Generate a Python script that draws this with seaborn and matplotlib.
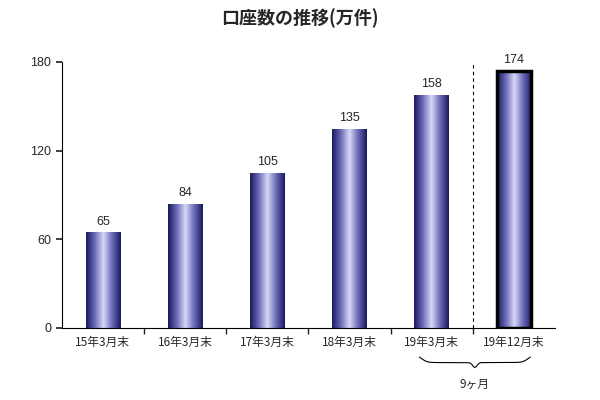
import matplotlib
matplotlib.use("Agg")
import matplotlib.pyplot as plt
import numpy as np
import seaborn as sns
from matplotlib.colors import LinearSegmentedColormap

categories = ["15年3月末", "16年3月末", "17年3月末", "18年3月末", "19年3月末", "19年12月末"]
values = [65, 84, 105, 135, 158, 174]
yticks = [0, 60, 120, 180]

sns.set_theme(style="white")
plt.rcParams["font.family"] = ["Noto Sans CJK JP", "DejaVu Sans"]

fig = plt.figure(figsize=(6, 4), dpi=100)
ax = fig.add_axes([0.103, 0.18, 0.822, 0.665])

bars = sns.barplot(x=categories, y=values, ax=ax, width=0.42, color="#333377",
                   saturation=1)
cmap = LinearSegmentedColormap.from_list(
    "g", ["#1a1a5e", "#6b6bb8", "#d8d8f8", "#6b6bb8", "#1a1a5e"])
grad = np.linspace(0, 1, 100).reshape(1, -1)
for i, p in enumerate(ax.patches):
    x0, y0 = p.get_x(), p.get_y()
    w, h = p.get_width(), p.get_height()
    im = ax.imshow(grad, cmap=cmap, aspect="auto", extent=(x0, x0 + w, y0, y0 + h),
                   zorder=2)
    im.set_clip_path(p)
    p.set_facecolor("none")
    if i == len(ax.patches) - 1:
        p.set_edgecolor("black")
        p.set_linewidth(2.5)
        p.set_zorder(3)
    else:
        p.set_edgecolor("none")
    ax.text(x0 + w / 2, y0 + h + 3, str(values[i]), ha="center", va="bottom",
            fontsize=9, family=["Liberation Sans", "DejaVu Sans"])

ax.set_xlim(-0.5, 5.5)
ax.set_ylim(0, 180)
ax.set_yticks(yticks)
ax.set_yticklabels([str(v) for v in yticks], family=["Liberation Sans", "DejaVu Sans"],
                   fontsize=9)
ax.set_xticks(range(len(categories)))
ax.set_xticklabels(categories, fontsize=8.5)
ax.set_xticks(np.arange(0.5, 5.5, 1), minor=True)
ax.tick_params(axis="x", which="major", length=0, pad=6)
ax.tick_params(axis="x", which="minor", length=4, direction="out", bottom=True)
ax.tick_params(axis="y", length=4, direction="out", left=True)
ax.spines["top"].set_visible(False)
ax.spines["right"].set_visible(False)
for s in ("left", "bottom"):
    ax.spines[s].set_color("black")
    ax.spines[s].set_linewidth(0.8)

ax.axvline(4.5, ymin=0, ymax=1.0, color="black", linestyle=(0, (3, 3)), linewidth=0.8)

# brace under the last two labels
bx = np.linspace(3.85, 5.2, 200)
trans = ax.get_xaxis_transform()
t = (bx - bx[0]) / (bx[-1] - bx[0])
by = -0.1 - 0.03 * (np.abs(1 / (1 + np.exp(-40 * (t - 0.02))) + 1 / (1 + np.exp(-40 * (0.98 - t))) - 1)
                    + 0.6 * np.exp(-((t - 0.5) ** 2) / 0.0008))
ax.plot(bx, by, color="black", linewidth=0.8, transform=trans, clip_on=False)
ax.text(4.52, -0.185, "9ヶ月", transform=trans, ha="center", va="top", fontsize=8.5)

fig.text(0.5, 0.955, "口座数の推移(万件)", ha="center", va="center", fontsize=13,
         fontweight="bold")

fig.savefig("out.png", dpi=100)
